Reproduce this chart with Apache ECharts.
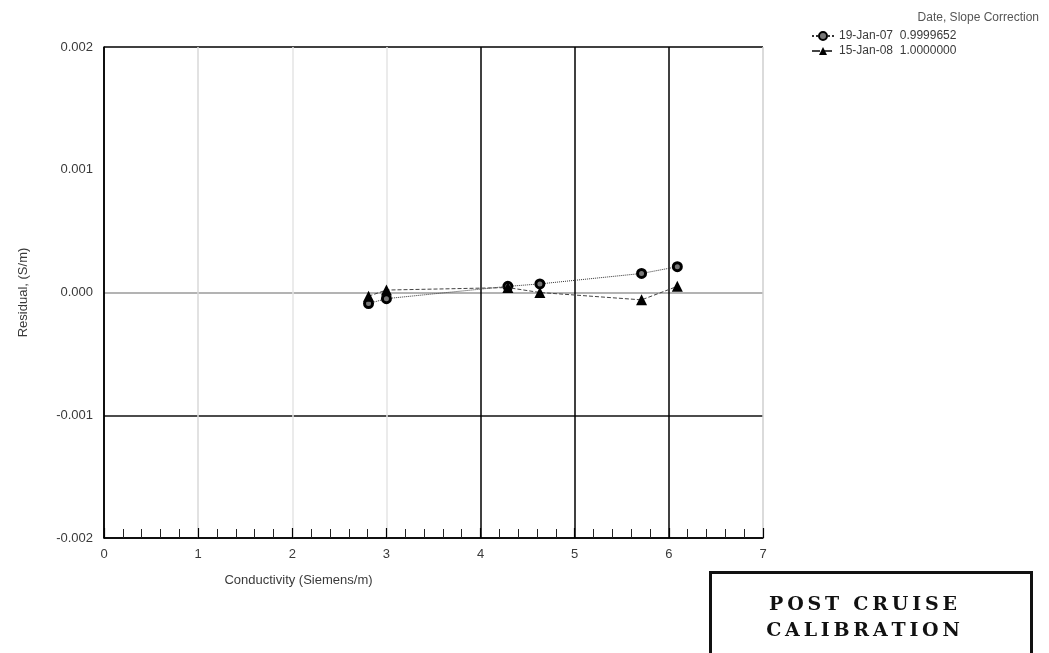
<!DOCTYPE html>
<html>
<head>
<meta charset="utf-8">
<script src="https://cdn.jsdelivr.net/npm/echarts@6/dist/echarts.min.js"></script>
<style>
html,body{margin:0;padding:0;background:#fff;}
#chart{width:1049px;height:653px;}
</style>
</head>
<body>
<div id="chart"></div>
<script>
// Data
const seriesNames = ['19-Jan-07  0.9999652', '15-Jan-08  1.0000000'];
const conductivity07 = [2.81, 3.00, 4.29, 4.63, 5.71, 6.09];
const residual07 = [-0.00009, -0.00005, 0.00005, 0.00007, 0.000155, 0.00021];
const conductivity08 = [2.81, 3.00, 4.29, 4.63, 5.71, 6.09];
const residual08 = [-0.00003, 0.00002, 0.00004, 0.00000, -0.00006, 0.00005];
const xTicks = [0, 1, 2, 3, 4, 5, 6, 7];
const yTicks = [-0.002, -0.001, 0.000, 0.001, 0.002];

const chart = echarts.init(document.getElementById('chart'), null, {renderer: 'canvas'});
const txt = '#3a3a3a';
const font = 'Liberation Sans, Arial, sans-serif';
const stampFont = 'bold 19px "DejaVu Serif", serif';
const spaced = s => s.split('').join('\u2009');

function pairs(xs, ys) { return xs.map((x, i) => [x, ys[i]]); }

chart.setOption({
  backgroundColor: '#ffffff',
  animation: false,
  title: {
    text: 'Date, Slope Correction',
    right: 5, top: 7,
    textStyle: {fontSize: 12, fontWeight: 'normal', color: '#555', fontFamily: font}
  },
  legend: {
    orient: 'vertical',
    left: 806, top: 25,
    itemWidth: 22, itemHeight: 10, itemGap: 3,
    textStyle: {fontSize: 12, color: txt, fontFamily: font},
    data: seriesNames
  },
  grid: {left: 104, right: 286, top: 47, bottom: 115, containLabel: false},
  xAxis: {
    type: 'value', min: xTicks[0], max: xTicks[xTicks.length - 1], interval: 1,
    name: 'Conductivity (Siemens/m)',
    nameLocation: 'middle', nameGap: 36,
    nameTextStyle: {fontSize: 13, color: txt, fontFamily: font, padding: [0, 270, 0, 0]},
    axisLine: {show: true, onZero: false, lineStyle: {color: '#000', width: 1.5}},
    axisTick: {show: true, inside: true, length: 10, lineStyle: {color: '#000', width: 1.2}},
    minorTick: {show: true, splitNumber: 5, length: 9, lineStyle: {color: '#222', width: 1}},
    axisLabel: {fontSize: 13, color: txt, fontFamily: font, margin: 10,
      formatter: v => String(v)},
    splitLine: {show: true, lineStyle: {
      color: ['#000', '#d8d8d8', '#e4e4e4', '#e4e4e4', '#000', '#000', '#000', '#cfcfcf'],
      width: 1.5}}
  },
  yAxis: {
    type: 'value', min: yTicks[0], max: yTicks[yTicks.length - 1], interval: 0.001,
    name: 'Residual, (S/m)',
    nameLocation: 'middle', nameGap: 74,
    nameTextStyle: {fontSize: 13, color: txt, fontFamily: font},
    axisLine: {show: true, onZero: false, lineStyle: {color: '#000', width: 1.5}},
    axisTick: {show: false},
    axisLabel: {fontSize: 13, color: txt, fontFamily: font, margin: 11,
      formatter: v => v.toFixed(3)},
    splitLine: {show: true, lineStyle: {
      color: ['#000', '#111', '#9a9a9a', 'rgba(0,0,0,0)', '#000'],
      width: 1.5}}
  },
  series: [
    {
      name: seriesNames[0], type: 'line',
      data: pairs(conductivity07, residual07),
      symbol: 'circle', symbolSize: 8,
      itemStyle: {color: '#777', borderColor: '#000', borderWidth: 3},
      lineStyle: {color: '#333', width: 1, type: 'dotted'},
      z: 3
    },
    {
      name: seriesNames[1], type: 'line',
      data: pairs(conductivity08, residual08),
      symbol: 'triangle', symbolSize: 11,
      itemStyle: {color: '#000', borderColor: '#000', borderWidth: 0},
      lineStyle: {color: '#444', width: 1, type: 'dashed'},
      z: 4
    }
  ],
  graphic: [
    {
      type: 'rect', left: 709, top: 571, z: 10,
      shape: {width: 321, height: 100},
      style: {fill: '#fff', stroke: '#111', lineWidth: 3}
    },
    {
      type: 'text', z: 11, x: 863, y: 605,
      style: {text: spaced('POST CRUISE'), fill: '#111', font: stampFont,
        align: 'center', verticalAlign: 'middle'}
    },
    {
      type: 'text', z: 11, x: 863, y: 631,
      style: {text: spaced('CALIBRATION'), fill: '#111', font: stampFont,
        align: 'center', verticalAlign: 'middle'}
    }
  ]
});
</script>
</body>
</html>
